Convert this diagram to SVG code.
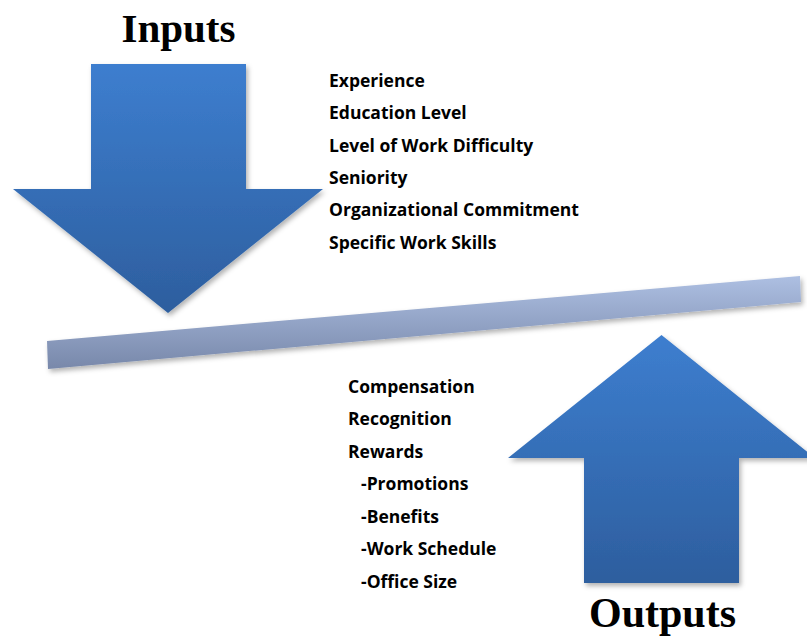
<svg xmlns="http://www.w3.org/2000/svg" width="807" height="639" viewBox="0 0 807 639">
<defs>
<linearGradient id="gDown" x1="0" y1="0" x2="0" y2="1">
<stop offset="0" stop-color="#3d7ecf"/>
<stop offset="1" stop-color="#2d5e9e"/>
</linearGradient>
<linearGradient id="gBeam" gradientUnits="userSpaceOnUse" x1="0" y1="276" x2="0" y2="369">
<stop offset="0" stop-color="#adbfe2"/>
<stop offset="1" stop-color="#7888aa"/>
</linearGradient>
<filter id="sh" x="-10%" y="-10%" width="130%" height="130%">
<feDropShadow dx="2" dy="3" stdDeviation="2.5" flood-color="#000" flood-opacity="0.3"/>
</filter>
</defs>
<style>
.title{font-family:"Liberation Serif","Times New Roman",serif;font-weight:bold;font-size:41px;fill:#000}
.item{font-family:"Open Sans","Liberation Sans",sans-serif;font-weight:bold;font-size:17.5px;fill:#000}
</style>
<rect width="807" height="639" fill="#fff"/>
<g id="inputs">
<text class="title" x="178.5" y="42" text-anchor="middle">Inputs</text>
<polygon points="91,64 246,64 246,189 323,189 168,313 13,189 91,189" fill="url(#gDown)" filter="url(#sh)"/>
</g>
<g id="input-list">
<text class="item" x="329" y="86.5">Experience</text>
<text class="item" x="329" y="119">Education Level</text>
<text class="item" x="329" y="151.5">Level of Work Difficulty</text>
<text class="item" x="329" y="184">Seniority</text>
<text class="item" x="329" y="216">Organizational Commitment</text>
<text class="item" x="329" y="248.5">Specific Work Skills</text>
</g>
<g id="beam">
<polygon points="47,341 800,276 801,302 48,369" fill="url(#gBeam)" filter="url(#sh)"/>
</g>
<g id="outputs">
<polygon points="661.5,335 815,458 739,458 739,583 584,583 584,458 508,458" fill="url(#gDown)" filter="url(#sh)"/>
<text class="title" x="662.5" y="627" text-anchor="middle" style="font-size:42px">Outputs</text>
</g>
<g id="output-list">
<text class="item" x="348" y="392.5">Compensation</text>
<text class="item" x="348" y="425">Recognition</text>
<text class="item" x="348" y="457.5">Rewards</text>
<text class="item" x="361" y="490">-Promotions</text>
<text class="item" x="361" y="522.5">-Benefits</text>
<text class="item" x="361" y="555">-Work Schedule</text>
<text class="item" x="361" y="587.5">-Office Size</text>
</g>
<g id="connectors"/>
</svg>
